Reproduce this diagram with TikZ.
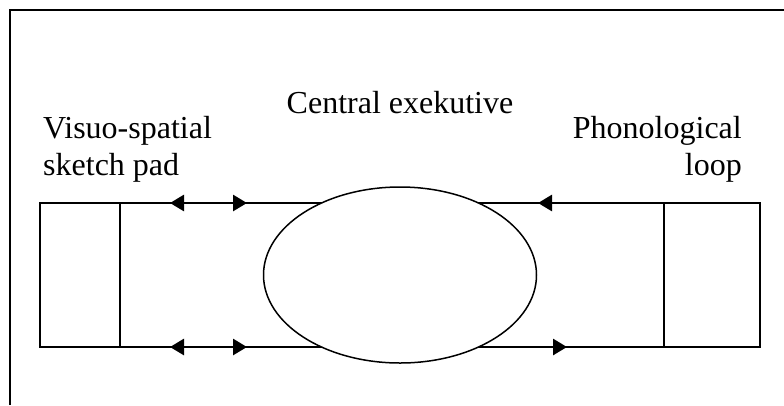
\documentclass[tikz,border=0pt]{standalone}
\usepackage{fontspec}
\setmainfont{Liberation Serif}
\usetikzlibrary{arrows.meta,shapes.geometric}
\begin{document}
\begin{tikzpicture}[x=1pt,y=-1pt,
  lbl/.style={font=\fontsize{32}{36.5}\selectfont, inner sep=0pt},
  boxpart/.style={draw, line width=1.5pt, minimum width=80pt, minimum height=144pt, inner sep=0pt, outer sep=0pt},
  link/.style={line width=1.5pt},
  flow/.style={line width=2.8pt, -{Triangle[length=14pt,width=16pt]}},
  biflow/.style={line width=2.8pt, {Triangle[length=14pt,width=16pt]}-{Triangle[length=14pt,width=16pt]}}]
\useasboundingbox (0,0) rectangle (784,405);
% outer frame (cropped at right and bottom)
\coordinate (fbl) at (10,405);
\coordinate (ftl) at (10,10);
\coordinate (ftr) at (784,10);
\draw[line width=2pt] (fbl) -- (ftl) -- (ftr);
% side boxes
\node[boxpart] (lbox) at (80,275) {};
\node[boxpart, minimum width=96pt] (rbox) at (712,275) {};
% long edges
\draw[link] (lbox.north east) -- (rbox.north west);
\draw[link] (lbox.south east) -- (rbox.south west);
% central ellipse
\node[draw, line width=1.5pt, fill=white, ellipse, minimum width=273pt, minimum height=176pt, inner sep=0pt] (ce) at (400,275) {};
% arrows
\coordinate (a1) at (170,203); \coordinate (a2) at (247,203);
\coordinate (b1) at (170,347); \coordinate (b2) at (247,347);
\coordinate (c1) at (569,203); \coordinate (c2) at (538,203);
\coordinate (d1) at (535,347); \coordinate (d2) at (567,347);
\draw[biflow] (a1) -- (a2);
\draw[biflow] (b1) -- (b2);
\draw[flow] (c1) -- (c2);
\draw[flow] (d1) -- (d2);
% labels
\node[lbl, anchor=base] (tce) at (400,113) {Central exekutive};
\node[lbl, anchor=base west, align=left] (tvs) at (43,175) {Visuo-spatial\\sketch pad};
\node[lbl, anchor=base east, align=right] (tpl) at (742,175) {Phonological\\loop};
\end{tikzpicture}
\end{document}
